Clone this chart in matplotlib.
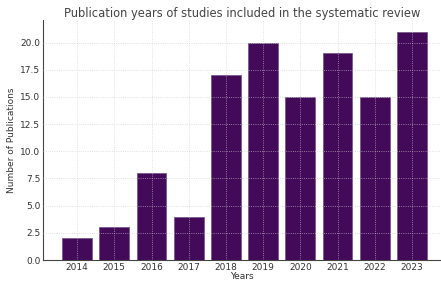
import matplotlib
matplotlib.use("Agg")
import matplotlib.pyplot as plt

years = ["2014", "2015", "2016", "2017", "2018", "2019", "2020", "2021", "2022", "2023"]
counts = [2, 3, 8, 4, 17, 20, 15, 19, 15, 21]

fig = plt.figure(figsize=(4.41, 2.82), dpi=100)
ax = fig.add_axes([0.098, 0.078, 0.902, 0.852])
ax.bar(years, counts, color="#440a5a", edgecolor="#7a5a8a", linewidth=0.6, width=0.8, zorder=1)
ax.grid(True, color="#cccccc", linestyle=":", linewidth=0.6, alpha=0.8, zorder=2)
ax.set_axisbelow(False)
for s in ["top", "right"]:
    ax.spines[s].set_visible(False)
for s in ["left", "bottom"]:
    ax.spines[s].set_color("#444444")
    ax.spines[s].set_linewidth(0.8)
ax.tick_params(length=0, labelsize=6.5, colors="#333333", pad=2)
ax.set_ylim(0, 22.1)
ax.set_yticks([0, 2.5, 5, 7.5, 10, 12.5, 15, 17.5, 20])
ax.set_xlim(-0.91, 9.78)
ax.set_xlabel("Years", fontsize=6.5, color="#333333", labelpad=0)
ax.set_ylabel("Number of Publications", fontsize=6.5, color="#333333", labelpad=3)
ax.set_title("Publication years of studies included in the systematic review", fontsize=8.3, color="#444444", pad=2)
fig.savefig("out.png", dpi=100)
